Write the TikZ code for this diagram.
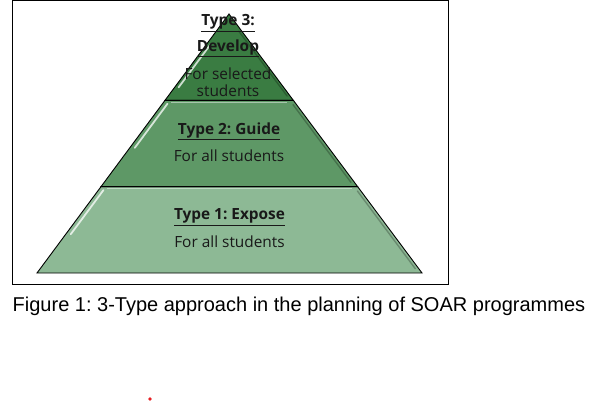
\documentclass[tikz,border=0pt]{standalone}
\usepackage{fontspec}
\setmainfont{Liberation Sans}
\newfontfamily\tierfont{Open Sans}
\usetikzlibrary{calc}

\definecolor{tierTop}{RGB}{58,124,66}
\definecolor{tierMid}{RGB}{94,152,102}
\definecolor{tierLow}{RGB}{141,185,149}
\definecolor{dotRed}{RGB}{230,30,35}

\tikzset{
  tier/.style={draw=black, line width=0.9pt, line join=miter},
  shine/.style={white, opacity=0.75, line width=1.8pt, line cap=round},
  shade/.style={black, opacity=0.25, line width=1.4pt, line cap=round},
  heading/.style={font=\tierfont\fontsize{15.4}{18}\selectfont\bfseries, inner sep=0pt, text=black!90},
  body/.style={font=\tierfont\fontsize{15.4}{18}\selectfont, inner sep=0pt, text=black!90},
  caption/.style={font=\fontsize{20}{24}\selectfont, inner sep=0pt, anchor=west},
}

\begin{document}
\frenchspacing
\begin{tikzpicture}[x=1pt, y=-1pt]
  \useasboundingbox (0,0) rectangle (595,404);

  % outer frame
  \draw[line width=1.3pt] (12.5,0.7) rectangle (448.5,284.5);

  % pyramid corners and tier boundaries
  \coordinate (apex) at (229,14);
  \coordinate (bl) at (37,273);
  \coordinate (br) at (422,273);
  \coordinate (l1) at ($(apex)!0.3333!(bl)$);
  \coordinate (r1) at ($(apex)!0.3333!(br)$);
  \coordinate (l2) at ($(apex)!0.6667!(bl)$);
  \coordinate (r2) at ($(apex)!0.6667!(br)$);

  % tiers
  \fill[tierLow] (l2) -- (r2) -- (br) -- (bl) -- cycle;
  \fill[tierMid] (l1) -- (r1) -- (r2) -- (l2) -- cycle;
  \fill[tierTop] (apex) -- (r1) -- (l1) -- cycle;

  % bevel highlights along the left edges, shadows along the right edges
  \draw[shine] ($(l2)!0.04!(bl)+(5,0)$) -- ($(l2)!0.55!(bl)+(5,0)$);
  \draw[shine] ($(l1)!0.04!(l2)+(5,0)$) -- ($(l1)!0.55!(l2)+(5,0)$);
  \draw[shine] ($(apex)!0.35!(l1)+(4,0)$) -- ($(apex)!0.85!(l1)+(4,0)$);
  \draw[shade] ($(r2)!0.05!(br)+(-3.5,0)$) -- ($(r2)!0.95!(br)+(-3.5,0)$);
  \draw[shade] ($(r1)!0.05!(r2)+(-3.5,0)$) -- ($(r1)!0.95!(r2)+(-3.5,0)$);
  \draw[shade] ($(apex)!0.2!(r1)+(-3,0)$) -- ($(apex)!0.95!(r1)+(-3,0)$);
  \draw[white, opacity=0.45, line width=1pt] ($(l2)+(6,2)$) -- ($(r2)+(-6,2)$);
  \draw[white, opacity=0.45, line width=1pt] ($(l1)+(6,2)$) -- ($(r1)+(-6,2)$);

  % tier outlines
  \draw[tier] (l2) -- (r2) -- (br) -- (bl) -- cycle;
  \draw[tier] (l1) -- (r1) -- (r2) -- (l2) -- cycle;
  \draw[tier] (apex) -- (r1) -- (l1) -- cycle;

  % labels
  \node[heading] (t3a) at (228,23) {\underline{Type 3:}};
  \node[heading] (t3b) at (228,48) {\underline{Develop}};
  \node[body] (t3c) at (228,74) {For selected};
  \node[body] (t3d) at (228,91) {students};

  \node[heading] (t2a) at (229,131) {\underline{Type 2: Guide}};
  \node[body] (t2b) at (229,156) {For all students};

  \node[heading] (t1a) at (229.5,217) {\underline{Type 1: Expose}};
  \node[body] (t1b) at (229.5,242) {For all students};

  % caption
  \node[caption] (cap) at (12.5,306) {Figure 1: 3-Type approach in the planning of SOAR programmes};

  % stray mark
  \fill[dotRed] (150,399) circle (1.8);
\end{tikzpicture}
\end{document}
